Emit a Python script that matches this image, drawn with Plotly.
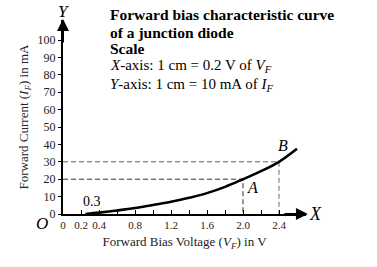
import plotly.graph_objects as go

# Data
voltage = [0.25, 0.4, 0.6, 0.8, 1.0, 1.2, 1.4, 1.6, 1.8, 2.0, 2.2, 2.4, 2.6]
current = [0.0, 0.8, 2.0, 3.4, 5.2, 7.0, 9.3, 12.0, 15.6, 20.0, 24.6, 30.0, 37.5]
pt_A = (2.0, 20.0)
pt_B = (2.4, 30.0)
x_tickvals = [0, 0.2, 0.4, 0.8, 1.2, 1.6, 2.0, 2.4]
x_ticktext = ["0", "0.2", "0.4", "0.8", "1.2", "1.6", "2.0", "2.4"]
x_minor_ticks = [0.6, 1.0, 1.4, 1.8, 2.2]
y_tickvals = [0, 10, 20, 30, 40, 50, 60, 70, 80, 90, 100]

SERIF = "Liberation Serif, Times New Roman, serif"

fig = go.Figure()

# dashed guide lines
for (px, py), dash_col in [(pt_A, "#333"), (pt_B, "#666")]:
    fig.add_trace(go.Scatter(x=[0, px, px], y=[py, py, 0], mode="lines",
                             line=dict(color=dash_col, width=1, dash="5px,3px"),
                             hoverinfo="skip", showlegend=False))

fig.add_trace(go.Scatter(x=voltage, y=current, mode="lines",
                         line=dict(color="black", width=2.6, shape="spline"),
                         showlegend=False))

ann = []
# arrows on axes
ann.append(dict(x=0, y=1.005, xref="paper", yref="paper", ax=0, ay=25, text="", showarrow=True,
                arrowhead=2, arrowsize=1.2, arrowwidth=2, arrowcolor="black"))
ann.append(dict(x=1.008, y=0, xref="paper", yref="paper", ax=-25, ay=0, text="", showarrow=True,
                arrowhead=2, arrowsize=1.2, arrowwidth=2, arrowcolor="black"))
for txt, xx, yy, sz in [("<i>Y</i>", 0.0, 1.045, 17), ("<i>X</i>", 1.04, 0.0, 18),
                        ("<i>O</i>", -0.086, -0.047, 17)]:
    ann.append(dict(x=xx, y=yy, xref="paper", yref="paper", xanchor="center", yanchor="middle",
                    text=txt, showarrow=False, font=dict(family=SERIF, size=sz, color="black")))
ann.append(dict(x=0.32, y=6.9, xref="x", yref="y", text="0.3", showarrow=False,
                font=dict(family=SERIF, size=14, color="black")))
ann.append(dict(x=2.11, y=15, xref="x", yref="y", text="<i>A</i>", showarrow=False,
                font=dict(family=SERIF, size=16, color="black")))
ann.append(dict(x=2.44, y=39.6, xref="x", yref="y", text="<i>B</i>", showarrow=False,
                font=dict(family=SERIF, size=16, color="black")))

lines = [
    ("<b>Forward bias characteristic curve</b>", 1.026, 15.5),
    ("<b>of a junction diode</b>", 0.938, 15.5),
    ("<b>Scale</b>", 0.852, 15.5),
    ("<i>X</i>-axis: 1 cm = 0.2 V of <i>V<sub>F</sub></i>", 0.761, 15),
    ("<i>Y</i>-axis: 1 cm = 10 mA of <i>I<sub>F</sub></i>", 0.666, 15),
]
for txt, yy, sz in lines:
    ann.append(dict(x=0.185, y=yy, xref="paper", yref="paper", xanchor="left", yanchor="middle",
                    align="left", showarrow=False, text=txt,
                    font=dict(family=SERIF, size=sz, color="black")))

fig.update_layout(
    width=377, height=267,
    margin=dict(l=63, r=71, t=20, b=53),
    paper_bgcolor="white", plot_bgcolor="white",
    annotations=ann,
    xaxis=dict(range=[0, 2.7], tickmode="array", tickvals=x_tickvals, ticktext=x_ticktext,
               ticks="inside", ticklen=4, tickcolor="black", showline=True,
               minor=dict(tickmode="array", tickvals=x_minor_ticks, ticks="inside",
                          ticklen=4, tickcolor="black", showgrid=False),
               linecolor="black", linewidth=2, showgrid=False, zeroline=False,
               tickfont=dict(family=SERIF, size=11, color="#222"),
               title=dict(text="Forward Bias Voltage (<i>V<sub>F</sub></i>) in V",
                          font=dict(family=SERIF, size=13, color="#222"), standoff=7)),
    yaxis=dict(range=[0, 111.5], tickvals=y_tickvals,
               ticks="outside", ticklen=3, tickcolor="black", showline=True,
               linecolor="black", linewidth=2, showgrid=False, zeroline=False,
               tickfont=dict(family=SERIF, size=12, color="#222"),
               title=dict(text="Forward Current (<i>I<sub>F</sub></i>) in mA",
                          font=dict(family=SERIF, size=13, color="#222"), standoff=6)),
)

fig.write_html("out.html")
